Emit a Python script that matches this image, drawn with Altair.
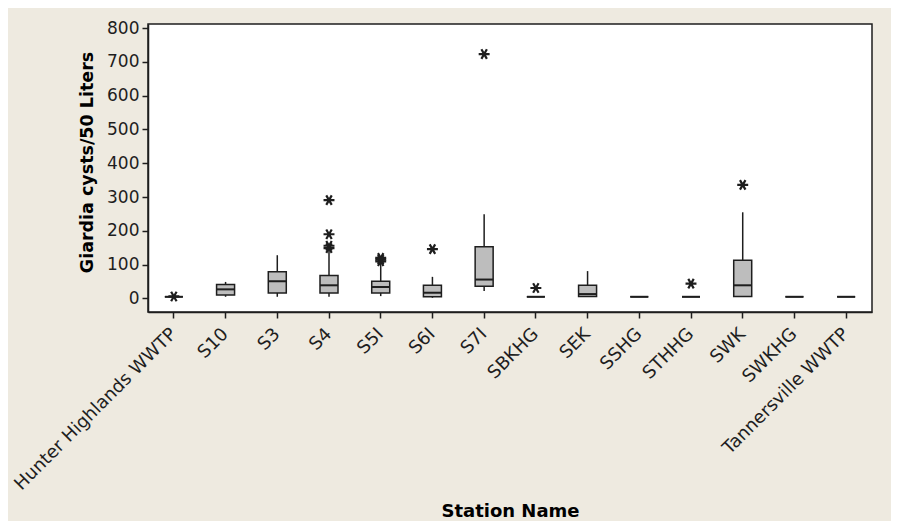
import altair as alt
import pandas as pd

stations = ["Hunter Highlands WWTP", "S10", "S3", "S4", "S5I", "S6I", "S7I",
            "SBKHG", "SEK", "SSHG", "STHHG", "SWK", "SWKHG", "Tannersville WWTP"]
q1 =   [5, 10, 16, 16, 16, 5, 36, 5, 6, 5, 5, 6, 5, 5]
med =  [5, 27, 51, 39, 34, 17, 56, 5, 13, 5, 5, 39, 5, 5]
q3 =   [5, 41, 79, 68, 51, 39, 153, 5, 39, 5, 5, 113, 5, 5]
lo =   [5, 5, 5, 5, 7, 2, 22, 5, 5, 5, 5, 5, 5, 5]
hi =   [5, 49, 128, 145, 113, 64, 249, 5, 81, 5, 5, 255, 5, 5]

out_station = ["Hunter Highlands WWTP", "S4", "S4", "S4", "S4", "S5I", "S5I", "S5I",
               "S6I", "S7I", "SBKHG", "STHHG", "SWK"]
out_value = [6, 291, 190, 156, 149, 120, 115, 110, 146, 723, 31, 44, 336]

y_ticks = [0, 100, 200, 300, 400, 500, 600, 700, 800]

boxes = pd.DataFrame({"station": stations, "q1": q1, "med": med, "q3": q3,
                      "lo": lo, "hi": hi})
outs = pd.DataFrame({"station": out_station, "value": out_value})

ink = "#1e1e1e"
xscale = alt.Scale(domain=stations, paddingInner=0, paddingOuter=0)
yscale = alt.Scale(domain=[-40, 812], nice=False, zero=False)

xaxis = alt.Axis(labelAngle=315, labelAlign="right", labelBaseline="middle",
                 labelPadding=13, tickSize=6, tickWidth=1.5, tickColor=ink,
                 domainColor=ink, domainWidth=1.5, labelColor=ink, labelLimit=400,
                 labelFont="DejaVu Sans", labelFontSize=18, labelOverlap=False,
                 titleFont="DejaVu Sans", titleFontSize=18, titleFontWeight="bold",
                 titleColor="#000", titleY=190, titleBaseline="top")
yaxis = alt.Axis(values=y_ticks, grid=False, labelOverlap=False,
                 tickSize=6, tickWidth=1.5, tickColor=ink, domainColor=ink, domainWidth=1.5,
                 labelColor=ink, labelFont="DejaVu Sans", labelFontSize=17, labelPadding=3,
                 titleFont="DejaVu Sans", titleFontSize=17.5, titleFontWeight="bold",
                 titleColor="#000", titlePadding=10, titleY=138)

def X():
    return alt.X("station:N", scale=xscale, sort=stations, axis=xaxis, title="Station Name")

def Y(field):
    return alt.Y(field, scale=yscale, axis=yaxis, title="Giardia cysts/50 Liters")

base = alt.Chart(boxes)

whisk = base.mark_rule(color=ink, strokeWidth=1.5).encode(
    x=X(), y=Y("lo:Q"), y2="hi:Q",
)
box = base.mark_bar(size=18, fill="#bdbdbd", stroke=ink, strokeWidth=1.5, opacity=1).encode(
    x=X(), y=Y("q1:Q"), y2="q3:Q",
)
median = base.mark_tick(size=18, thickness=2, color=ink, opacity=1).encode(
    x=X(), y=Y("med:Q"),
)
star = "M-1,0L1,0M-0.5,-0.87L0.5,0.87M-0.5,0.87L0.5,-0.87"
outl = alt.Chart(outs).mark_point(shape=star, size=120, filled=False, stroke=ink,
                                  strokeWidth=2.2, opacity=1).encode(
    x=X(), y=Y("value:Q"),
)

chart = alt.layer(whisk, box, median, outl).properties(
    width=724, height=288,
    autosize=alt.AutoSizeParams(type="none"),
    padding={"left": 140, "top": 16, "right": 19, "bottom": 209},
    background="#eeeae0",
).configure_view(stroke=ink, strokeWidth=1.5, fill="white")

chart.save("out.html", embed_options={"renderer": "svg", "actions": False})
